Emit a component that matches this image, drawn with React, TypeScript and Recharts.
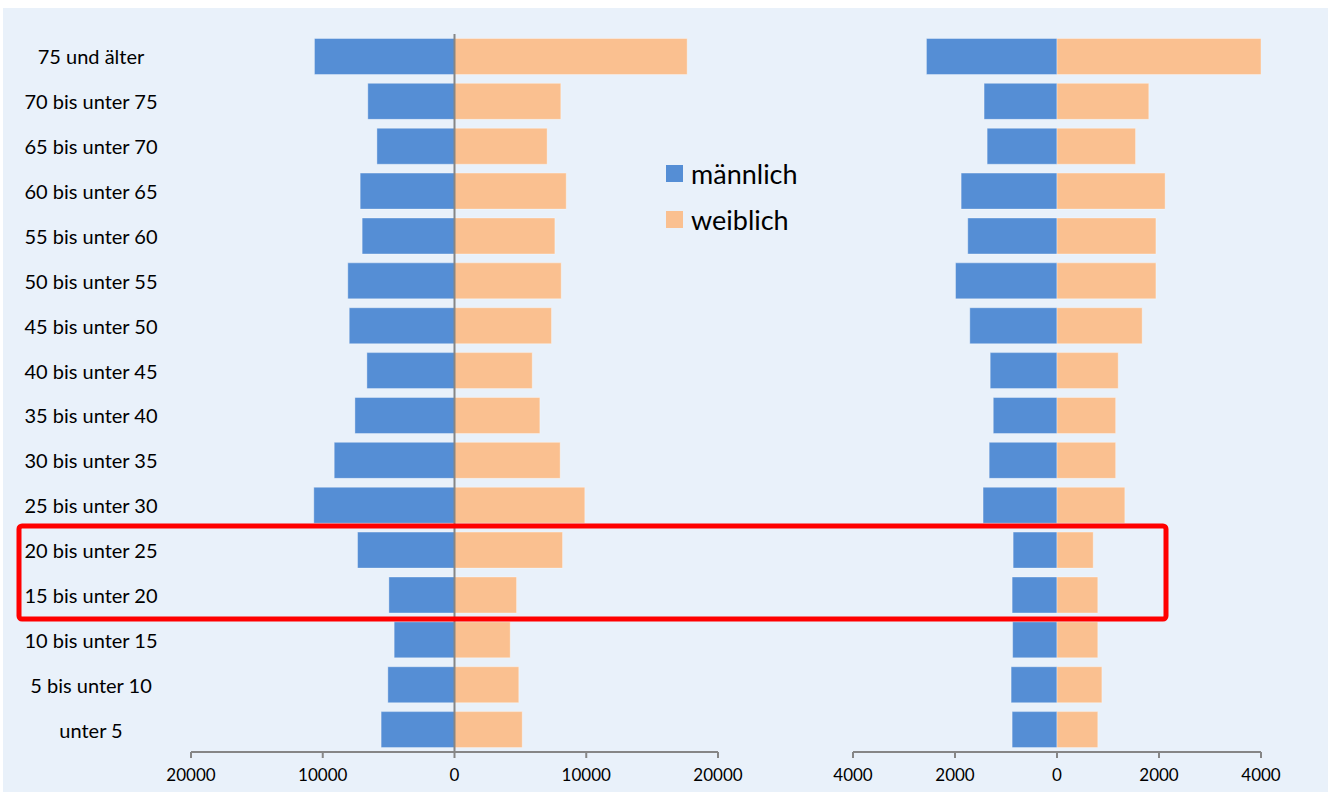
import React from "react";
import { BarChart, Bar, XAxis, YAxis, Legend, ReferenceLine } from "recharts";

// Altersgruppen, von oben nach unten
const categories = [
  "75 und älter",
  "70 bis unter 75",
  "65 bis unter 70",
  "60 bis unter 65",
  "55 bis unter 60",
  "50 bis unter 55",
  "45 bis unter 50",
  "40 bis unter 45",
  "35 bis unter 40",
  "30 bis unter 35",
  "25 bis unter 30",
  "20 bis unter 25",
  "15 bis unter 20",
  "10 bis unter 15",
  "5 bis unter 10",
  "unter 5",
];

// linke Pyramide
const leftMale = [10630, 6580, 5890, 7160, 7010, 8100, 7990, 6650, 7560, 9130, 10680, 7360, 4980, 4580, 5060, 5570];
const leftFemale = [17660, 8070, 7030, 8480, 7620, 8100, 7360, 5900, 6480, 8020, 9890, 8200, 4710, 4230, 4880, 5140];

// rechte Pyramide
const rightMale = [2560, 1430, 1370, 1880, 1750, 1990, 1710, 1310, 1250, 1330, 1450, 860, 880, 870, 900, 880];
const rightFemale = [4030, 1800, 1540, 2120, 1940, 1940, 1670, 1200, 1150, 1150, 1330, 710, 800, 800, 880, 800];

const leftTicks = [-20000, -10000, 0, 10000, 20000];
const rightTicks = [-4000, -2000, 0, 2000, 4000];

const MALE = "#558ED5";
const FEMALE = "#FAC090";
const AXIS = "#868686";
const FONT = "Lato, 'Open Sans', sans-serif";

const leftData = categories.map((cat, i) => ({ cat, male: -leftMale[i], female: leftFemale[i] }));
const rightData = categories.map((cat, i) => ({ cat, male: -rightMale[i], female: rightFemale[i] }));

const absFormat = (v: number) => String(Math.abs(v));

const CategoryTick = (props: any) => {
  const { y, payload } = props;
  return (
    <text x={91} y={y} textAnchor="middle" dominantBaseline="central" fontSize={20} fontFamily={FONT} fill="#000">
      {payload.value}
    </text>
  );
};

const LegendBox = (props: any) => {
  const { payload } = props;
  return (
    <div>
      {(payload || []).map((entry: any) => (
        <div key={entry.value} style={{ display: "flex", alignItems: "center", height: 46 }}>
          <span style={{ width: 17, height: 17, background: entry.color, marginRight: 8, display: "inline-block" }} />
          <span style={{ fontSize: 27, fontFamily: FONT, color: "#000", lineHeight: "27px" }}>{entry.value}</span>
        </div>
      ))}
    </div>
  );
};

const tickStyle = { fontSize: 17, fontFamily: FONT, fill: "#000" };

export default function App() {
  return (
    <div style={{ position: "absolute", left: 0, top: 0, width: 1330, height: 796, background: "#fff", overflow: "hidden" }}>
      <div style={{ position: "absolute", left: 3, top: 8, width: 1325, height: 784, background: "#E9F1FA" }} />

      <div style={{ position: "absolute", left: 0, top: 0 }}>
        <BarChart
          width={760}
          height={796}
          data={leftData}
          layout="vertical"
          stackOffset="sign"
          barCategoryGap="10%"
          margin={{ top: 34, right: 42, bottom: 14, left: 0 }}
        >
          <XAxis
            type="number"
            domain={[-20000, 20000]}
            ticks={leftTicks}
            interval={0}
            tickFormatter={absFormat}
            height={30}
            tickSize={6}
            tickMargin={11}
            tick={tickStyle}
            stroke={AXIS}
            axisLine={{ stroke: AXIS, strokeWidth: 2 }}
            tickLine={{ stroke: AXIS, strokeWidth: 2 }}
          />
          <YAxis type="category" dataKey="cat" width={191} axisLine={false} tickLine={false} interval={0} tick={<CategoryTick />} />
          <Legend
            layout="vertical"
            align="center"
            verticalAlign="middle"
            content={<LegendBox />}
            wrapperStyle={{ left: 666, top: 150, width: 200 }}
          />
          <Bar dataKey="male" name="männlich" stackId="a" fill={MALE} stroke="rgba(255,255,255,0.35)" isAnimationActive={false} />
          <Bar dataKey="female" name="weiblich" stackId="a" fill={FEMALE} stroke="rgba(255,255,255,0.35)" isAnimationActive={false} />
          <ReferenceLine x={0} stroke={AXIS} strokeWidth={2} />
        </BarChart>
      </div>

      <div style={{ position: "absolute", left: 760, top: 0 }}>
        <BarChart
          width={570}
          height={796}
          data={rightData}
          layout="vertical"
          stackOffset="sign"
          barCategoryGap="10%"
          margin={{ top: 34, right: 69, bottom: 14, left: 93 }}
        >
          <XAxis
            type="number"
            domain={[-4000, 4000]}
            allowDataOverflow
            ticks={rightTicks}
            interval={0}
            tickFormatter={absFormat}
            height={30}
            tickSize={6}
            tickMargin={11}
            tick={tickStyle}
            stroke={AXIS}
            axisLine={{ stroke: AXIS, strokeWidth: 2 }}
            tickLine={{ stroke: AXIS, strokeWidth: 2 }}
          />
          <YAxis type="category" dataKey="cat" hide />
          <Bar dataKey="male" name="männlich" stackId="a" fill={MALE} stroke="rgba(255,255,255,0.35)" isAnimationActive={false} />
          <Bar dataKey="female" name="weiblich" stackId="a" fill={FEMALE} stroke="rgba(255,255,255,0.35)" isAnimationActive={false} />
        </BarChart>
      </div>

      <svg width={1330} height={796} style={{ position: "absolute", left: 0, top: 0, pointerEvents: "none" }}>
        <rect x={19} y={526} width={1147} height={93} rx={3} fill="none" stroke="#FF0000" strokeWidth={5} />
      </svg>
    </div>
  );
}
